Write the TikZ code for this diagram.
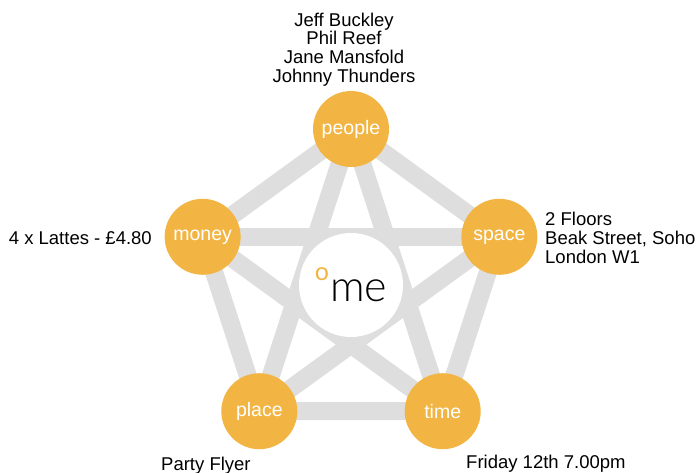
\documentclass[tikz,border=0pt]{standalone}
\usepackage{fontspec}
\setmainfont{Liberation Sans}
\newfontfamily\thinfont{Lato Light}
\newfontfamily\dotfont{Lato}
\usepackage{xcolor}
\usetikzlibrary{backgrounds}
\definecolor{dotorange}{HTML}{F2B544}
\definecolor{spokegray}{HTML}{DEDEDE}
\tikzset{
    topic/.style={circle, fill=dotorange, text=white, minimum size=76pt,
        inner sep=0pt, font=\fontsize{19.5}{19.5}\selectfont},
    spoke/.style={line width=18pt, draw=spokegray},
    note/.style={inner sep=0pt, font=\fontsize{18.5}{18.8}\selectfont},
}

\begin{document}
\begin{tikzpicture}[x=1pt,y=1pt]
    \useasboundingbox (0,0) rectangle (698,472);

    \path (351,187) node [circle, fill=white, minimum size=104pt, inner sep=0pt,
        font=\thinfont\fontsize{43}{43}\selectfont] (hub)
        {\raisebox{21pt}{\dotfont\fontsize{25}{25}\selectfont\color{dotorange}o}\kern1pt me};

    \path (hub) ++(90:156) node [topic] (people) {people};
    \path (hub) ++(18:156) node [topic] (space) {space};
    \path (hub) ++(-54:156) node [topic] (time) {time};
    \path (hub) ++(-126:156) node [topic] (place) {place};
    \path (hub) ++(162:156) node [topic] (money) {money};

    \begin{scope}[on background layer]
    \draw [spoke] (people.center) -- (space.center) -- (time.center)
        -- (place.center) -- (money.center) -- cycle;
    \draw [spoke] (people.center) -- (place.center);
    \draw [spoke] (people.center) -- (time.center);
    \draw [spoke] (money.center) -- (space.center);
    \draw [spoke] (money.center) -- (time.center);
    \draw [spoke] (space.center) -- (place.center);
    \end{scope}

    \path (344,422.5) node [note, align=center] (crew)
        {Jeff Buckley\\Phil Reef\\Jane Mansfold\\Johnny Thunders};
    \path (545,234) node [note, anchor=west, align=left] (venue)
        {2 Floors\\Beak Street, Soho\\London W1};
    \path (152,234) node [note, anchor=east] (cost) {4 x Lattes - £4.80};
    \path (161,2) node [note, anchor=base west] (flyer) {Party Flyer};
    \path (466,4) node [note, anchor=base west] (date) {Friday 12th 7.00pm};
\end{tikzpicture}
\end{document}
